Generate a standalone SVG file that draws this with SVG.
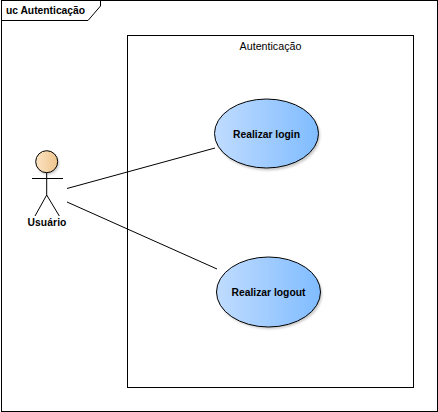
<svg xmlns="http://www.w3.org/2000/svg" width="438" height="412" viewBox="0 0 438 412">
<style>
.l{fill:none;stroke:#000;stroke-width:1}
.t{font-family:"Liberation Sans",Arial,sans-serif;font-size:10.700px;fill:#000}
.b{font-weight:bold;font-size:10.300px;text-anchor:middle}
.uc{stroke:#000;stroke-width:1;fill:url(#ug)}
.sh{fill:#888;opacity:.45;filter:url(#bl)}
</style>
<defs>
<linearGradient id="ug" x1="0" x2="1" y1="0" y2="0"><stop offset="0" stop-color="#c0dcff"/><stop offset="1" stop-color="#80bcff"/></linearGradient>
<linearGradient id="ag" x1="0" x2="1" y1="0" y2="0"><stop offset="0" stop-color="#fbe4c4"/><stop offset="1" stop-color="#eec48c"/></linearGradient>
<filter id="bl" x="-20%" y="-20%" width="140%" height="140%"><feGaussianBlur stdDeviation="1.2"/></filter>
</defs>
<rect width="438" height="412" fill="#fff"/>
<g id="frame">
<rect class="l" x="1.500" y="0.500" width="436" height="411"/>
<path class="l" d="M1.500 20.500H88L100.500 6V0.500"/>
<text class="t b" x="45.500" y="14">uc Autenticação</text>
</g>
<g id="boundary">
<rect class="l" x="127.500" y="35.500" width="286" height="352"/>
<text class="t" x="270.500" y="49.500" text-anchor="middle">Autenticação</text>
</g>
<g id="connectors">
<line class="l" x1="67" y1="188.500" x2="215" y2="148"/>
<line class="l" x1="67" y1="202" x2="217" y2="269"/>
</g>
<g id="actor">
<circle class="sh" cx="48" cy="163.500" r="11"/>
<circle cx="46.700" cy="161.700" r="11" fill="url(#ag)" stroke="#000"/>
<path class="l" d="M46.700 172.700V195M32 178.500H63M46.700 195L35 216M46.700 195L59.300 216"/>
<text class="t b" x="47" y="225.500" letter-spacing=".1">Usuário</text>
</g>
<g id="login">
<ellipse class="sh" cx="268" cy="135.500" rx="52" ry="35"/>
<ellipse class="uc" cx="266.500" cy="133.500" rx="52" ry="34.500"/>
<text class="t b" x="266.500" y="137.500">Realizar login</text>
</g>
<g id="logout">
<ellipse class="sh" cx="270" cy="294" rx="52" ry="35"/>
<ellipse class="uc" cx="268.500" cy="292" rx="52" ry="35"/>
<text class="t b" x="268.500" y="296">Realizar logout</text>
</g>
</svg>
